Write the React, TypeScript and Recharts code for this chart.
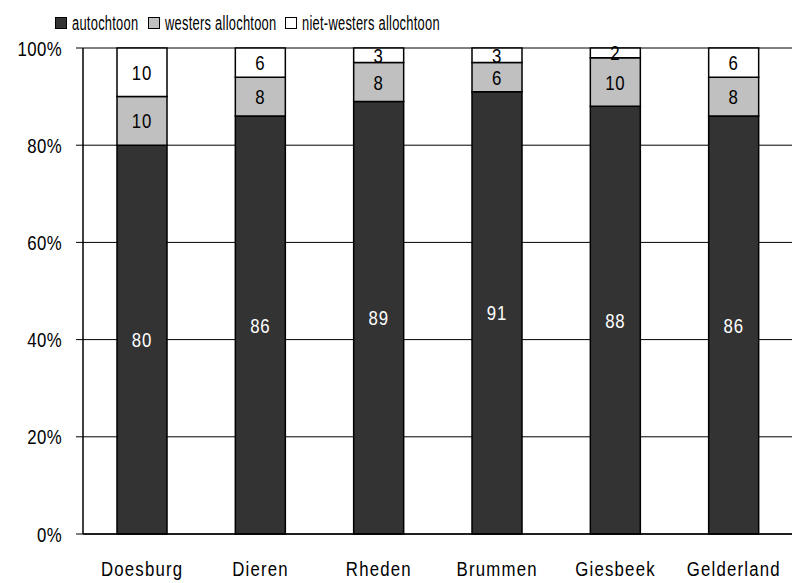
import { BarChart, Bar, XAxis, YAxis, CartesianGrid, LabelList } from 'recharts';

const gemeenten = ['Doesburg', 'Dieren', 'Rheden', 'Brummen', 'Giesbeek', 'Gelderland'];
const autochtoon = [80, 86, 89, 91, 88, 86];
const westers = [10, 8, 8, 6, 10, 8];
const nietWesters = [10, 6, 3, 3, 2, 6];
const yTicks = [0, 20, 40, 60, 80, 100];

const series = [
  { key: 'autochtoon', name: 'autochtoon', color: '#333333', text: '#ffffff', legendX: 55 },
  { key: 'westers', name: 'westers allochtoon', color: '#c0c0c0', text: '#000000', legendX: 148 },
  { key: 'nietWesters', name: 'niet-westers allochtoon', color: '#ffffff', text: '#000000', legendX: 285 },
];

const data = gemeenten.map((name, i) => ({
  name,
  autochtoon: autochtoon[i],
  westers: westers[i],
  nietWesters: nietWesters[i],
}));

const FONT = '"Liberation Sans", Arial, sans-serif';
const SQUEEZE = 0.8;

// condensed-looking text: no narrow font installed, so squeeze Liberation Sans
function NarrowText({ x, y, children, anchor = 'middle', fill = '#000', size = 20, dy = '0', spacing = 1.2 }: any) {
  return (
    <g transform={`translate(${x},${y}) scale(${SQUEEZE},1)`}>
      <text
        x={0}
        y={0}
        dy={dy}
        textAnchor={anchor}
        fill={fill}
        fontSize={size}
        fontFamily={FONT}
        letterSpacing={spacing}
      >
        {children}
      </text>
    </g>
  );
}

function XTick({ x, y, payload }: any) {
  return <NarrowText x={x} y={y - 1} size={21} spacing={1.5}>{payload.value}</NarrowText>;
}

function YTick({ x, y, payload }: any) {
  return (
    <NarrowText x={x} y={y} anchor="end" size={21} dy="0.36em" spacing={0.5}>
      {`${payload.value}%`}
    </NarrowText>
  );
}

function makeBarLabel(color: string) {
  return (p: any) => {
    const vb = p.viewBox || p;
    const cx = vb.x + vb.width / 2;
    const cy = vb.y + vb.height / 2;
    return (
      <NarrowText x={cx} y={cy} dy="0.36em" fill={color} size={21} spacing={1}>
        {p.value}
      </NarrowText>
    );
  };
}

function TopLegend() {
  return (
    <div style={{ position: 'absolute', left: 0, top: 0, width: 792, height: 40, pointerEvents: 'none' }}>
      {series.map((s) => (
        <div key={s.key} style={{ position: 'absolute', left: s.legendX, top: 16, display: 'flex', alignItems: 'center' }}>
          <div
            style={{
              width: 10,
              height: 10,
              backgroundColor: s.color,
              border: '1px solid #000',
            }}
          />
          <span
            style={{
              display: 'inline-block',
              marginLeft: 5,
              fontFamily: FONT,
              fontSize: 20,
              lineHeight: '14px',
              whiteSpace: 'nowrap',
              transform: 'scaleX(0.645)',
              transformOrigin: 'left center',
              letterSpacing: 0.4,
            }}
          >
            {s.name}
          </span>
        </div>
      ))}
    </div>
  );
}

export default function App() {
  return (
    <div style={{ position: 'absolute', left: 0, top: 0, width: 792, height: 583, background: '#fff' }}>
      <BarChart
        width={792}
        height={583}
        data={data}
        margin={{ top: 48, right: -1, bottom: 0, left: 0 }}
        barSize={50}
      >
        <CartesianGrid vertical={false} stroke="#000" strokeWidth={1} />
        <XAxis
          dataKey="name"
          height={49}
          tickLine={false}
          axisLine={{ stroke: '#000', strokeWidth: 1.5 }}
          tickMargin={37}
          tick={<XTick />}
        />
        <YAxis
          width={83}
          domain={[0, 100]}
          ticks={yTicks}
          tickSize={7}
          tickMargin={14}
          tickLine={{ stroke: '#000' }}
          axisLine={{ stroke: '#000', strokeWidth: 1.5 }}
          tick={<YTick />}
        />
        {series.map((s) => (
          <Bar
            key={s.key}
            dataKey={s.key}
            name={s.name}
            stackId="a"
            fill={s.color}
            stroke="#000"
            strokeWidth={1.5}
            isAnimationActive={false}
          >
            <LabelList dataKey={s.key} content={makeBarLabel(s.text)} />
          </Bar>
        ))}
      </BarChart>
      <TopLegend />
    </div>
  );
}
